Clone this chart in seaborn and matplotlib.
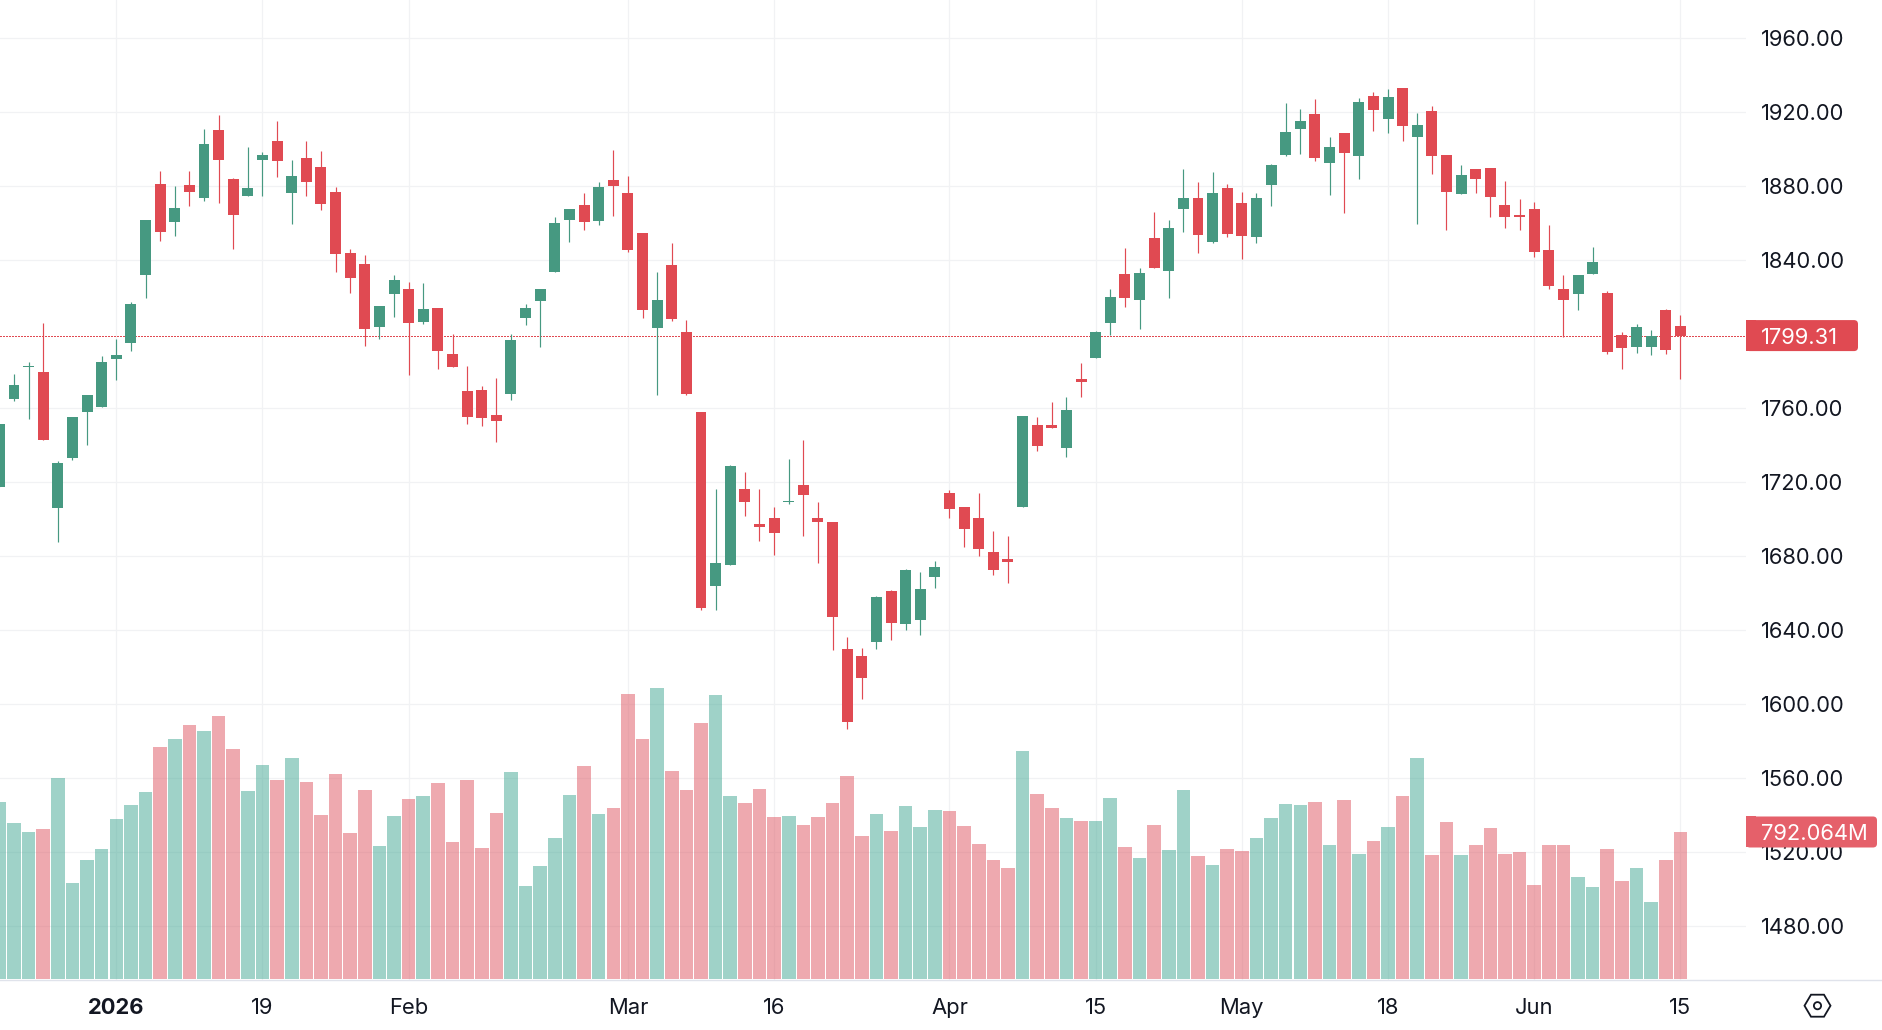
import matplotlib
matplotlib.use("Agg")
import matplotlib.pyplot as plt
from matplotlib.patches import FancyBboxPatch, Rectangle, Polygon, Circle
from matplotlib.lines import Line2D
import numpy as np
import pandas as pd
import seaborn as sns

first_session = -8
price_open = [
    1717.5, 1765.0, 1782.3, 1779.6, 1706.1, 1733.2, 1758.0, 1760.7,
    1786.7, 1795.3, 1832.1, 1881.3, 1860.7, 1880.7, 1873.7, 1910.5, 1884.0, 1874.8,
    1894.2, 1904.5, 1876.4, 1895.3, 1890.5, 1876.9, 1844.0, 1838.0, 1804.0, 1821.8,
    1824.5, 1806.7, 1814.2, 1789.4, 1769.4, 1769.7, 1756.2, 1767.5, 1808.7, 1817.9,
    1833.7, 1861.8, 1869.9, 1861.4, 1883.4, 1876.4, 1854.7, 1803.3, 1837.4, 1801.2,
    1757.9, 1664.1, 1675.4, 1716.6, 1697.7, 1700.9, 1709.1, 1718.3, 1700.9, 1698.8,
    1630.0, 1626.2, 1633.7, 1661.3, 1643.5, 1645.7, 1669.0, 1714.2, 1706.7, 1700.7,
    1682.3, 1678.6, 1706.7, 1751.0, 1751.0, 1738.6, 1775.9, 1787.2, 1806.1, 1832.6,
    1818.6, 1852.1, 1834.2, 1867.7, 1873.7, 1849.9, 1879.1, 1871.0, 1852.6, 1880.7,
    1896.9, 1911.0, 1919.1, 1892.6, 1908.8, 1896.4, 1928.8, 1916.4, 1933.2, 1906.7,
    1920.7, 1896.9, 1875.9, 1889.4, 1889.9, 1869.9, 1864.5, 1867.7, 1845.6, 1824.5,
    1821.8, 1832.6, 1822.3, 1799.6, 1793.2, 1793.2, 1813.2, 1804.5,
]
price_high = [
    1751.5, 1778.6, 1785.0, 1806.1, 1731.5, 1755.3, 1767.2, 1788.3,
    1797.5, 1817.5, 1861.8, 1888.3, 1880.2, 1888.3, 1911.0, 1918.6, 1884.5, 1901.3,
    1898.6, 1915.3, 1894.2, 1904.5, 1899.1, 1879.6, 1846.1, 1842.9, 1815.3, 1832.1,
    1828.3, 1827.7, 1814.2, 1800.2, 1782.9, 1771.8, 1776.3, 1800.1, 1816.4, 1824.5,
    1863.5, 1867.8, 1876.4, 1882.4, 1899.7, 1885.6, 1854.7, 1833.7, 1849.4, 1807.6,
    1757.9, 1716.6, 1729.6, 1725.8, 1716.6, 1706.9, 1732.4, 1743.1, 1709.5, 1698.8,
    1636.5, 1630.5, 1658.7, 1661.9, 1673.3, 1671.6, 1677.6, 1715.9, 1706.7, 1714.2,
    1693.7, 1691.0, 1755.9, 1755.3, 1763.4, 1766.1, 1784.5, 1801.8, 1824.5, 1846.7,
    1835.9, 1866.1, 1861.8, 1889.4, 1882.3, 1887.7, 1881.3, 1876.9, 1876.4, 1892.1,
    1925.0, 1921.8, 1927.2, 1906.7, 1908.8, 1927.7, 1931.0, 1932.6, 1933.2, 1919.6,
    1923.4, 1896.9, 1891.5, 1889.4, 1889.9, 1882.9, 1873.2, 1871.5, 1859.1, 1832.1,
    1832.1, 1847.2, 1823.4, 1801.3, 1805.6, 1802.3, 1813.7, 1810.5,
]
price_low = [
    1717.5, 1764.0, 1754.2, 1742.9, 1687.7, 1732.1, 1740.2, 1760.7,
    1775.3, 1791.0, 1819.6, 1850.5, 1853.2, 1869.4, 1872.1, 1871.0, 1846.1, 1874.8,
    1874.8, 1885.0, 1859.6, 1874.8, 1867.2, 1833.7, 1822.3, 1793.7, 1797.5, 1809.4,
    1778.0, 1805.6, 1781.3, 1782.3, 1751.5, 1750.2, 1741.6, 1764.3, 1805.0, 1793.0,
    1833.7, 1849.8, 1856.4, 1859.0, 1863.9, 1844.4, 1808.7, 1767.1, 1807.2, 1767.1,
    1651.0, 1651.0, 1675.4, 1701.6, 1688.5, 1680.8, 1708.2, 1691.1, 1676.5, 1629.4,
    1586.5, 1602.8, 1630.0, 1634.7, 1640.3, 1637.5, 1663.0, 1700.7, 1685.0, 1680.2,
    1669.9, 1665.6, 1706.7, 1736.9, 1749.4, 1733.7, 1766.1, 1787.2, 1799.5, 1814.8,
    1802.9, 1835.9, 1819.6, 1855.3, 1844.0, 1849.4, 1852.6, 1840.7, 1849.4, 1869.4,
    1896.4, 1897.5, 1893.7, 1875.3, 1865.6, 1884.0, 1909.9, 1908.8, 1904.5, 1859.6,
    1886.7, 1856.4, 1875.9, 1876.4, 1863.4, 1857.5, 1856.4, 1841.8, 1824.5, 1798.6,
    1813.2, 1832.6, 1789.4, 1781.3, 1789.9, 1788.8, 1789.4, 1775.9,
]
price_close = [
    1751.5, 1772.6, 1782.9, 1742.9, 1730.5, 1755.3, 1767.2, 1785.0,
    1788.8, 1816.4, 1861.8, 1855.3, 1868.3, 1876.9, 1902.9, 1894.2, 1864.5, 1879.1,
    1896.9, 1893.7, 1885.6, 1882.3, 1870.5, 1843.4, 1830.5, 1802.9, 1815.3, 1829.4,
    1806.1, 1813.7, 1791.0, 1782.3, 1755.3, 1754.5, 1753.4, 1796.9, 1814.2, 1824.5,
    1860.3, 1867.8, 1860.7, 1879.8, 1880.2, 1845.5, 1813.0, 1818.5, 1808.2, 1767.5,
    1652.1, 1676.5, 1728.6, 1709.1, 1696.0, 1692.8, 1710.1, 1713.4, 1698.8, 1647.4,
    1590.4, 1614.2, 1658.1, 1644.0, 1672.7, 1662.4, 1674.4, 1705.6, 1694.8, 1684.0,
    1672.6, 1676.9, 1755.9, 1739.6, 1749.4, 1759.1, 1774.2, 1801.3, 1820.2, 1819.6,
    1833.2, 1835.9, 1857.5, 1873.7, 1853.7, 1876.4, 1854.2, 1853.2, 1873.7, 1891.5,
    1909.4, 1915.3, 1895.3, 1901.3, 1898.0, 1925.6, 1921.3, 1928.3, 1912.6, 1913.2,
    1896.4, 1876.9, 1886.1, 1884.0, 1874.2, 1863.4, 1863.4, 1844.5, 1826.1, 1818.6,
    1832.1, 1839.1, 1790.5, 1792.6, 1804.0, 1799.1, 1791.5, 1799.31,
]
volume_m = [
    953.7, 840.5, 792.0, 808.2, 1083.0, 517.2, 641.2, 700.4,
    862.1, 937.5, 1007.6, 1250.0, 1293.1, 1368.6, 1336.2, 1417.0, 1239.2, 1012.9,
    1153.0, 1072.2, 1190.7, 1061.4, 883.6, 1104.5, 786.6, 1018.3, 716.6, 878.2,
    969.8, 986.0, 1056.0, 738.2, 1072.2, 705.8, 894.4, 1115.3, 501.1, 608.8,
    759.7, 991.4, 1147.6, 889.0, 921.3, 1535.6, 1293.1, 1567.9, 1120.7, 1018.3,
    1379.3, 1530.2, 986.0, 948.3, 1023.7, 872.9, 878.2, 829.8, 872.9, 948.3,
    1093.8, 770.5, 889.0, 797.4, 932.1, 819.0, 910.6, 905.2, 824.4, 727.4,
    641.2, 598.1, 1228.5, 996.8, 921.3, 867.5, 851.3, 851.3, 975.2, 711.2,
    652.0, 829.8, 695.1, 1018.3, 662.7, 614.2, 700.4, 689.7, 759.7, 867.5,
    942.9, 937.5, 953.7, 722.0, 964.5, 673.5, 743.5, 819.0, 986.0, 1190.7,
    668.1, 845.9, 668.1, 722.0, 813.6, 673.5, 684.3, 506.5, 722.0, 722.0,
    549.6, 495.7, 700.4, 528.0, 598.1, 414.9, 641.2, 792.064,
]
date_ticks = [0, 10, 20, 35, 45, 57, 67, 77, 87, 97, 107]
date_labels = ["2026", "19", "Feb", "Mar", "16", "Apr", "15", "May", "18", "Jun", "15"]
price_ticks = [1480, 1520, 1560, 1600, 1640, 1680, 1720, 1760, 1840, 1880, 1920, 1960]
last_price = price_close[-1]
last_volume = volume_m[-1]

UP = "#469981"
DOWN = "#E04A52"
UP_VOL = "#41A793"
DOWN_VOL = "#DF5561"
GRID = "#F1F2F4"
RULE = "#E0E3EB"
INK = "#131722"
TEXT_SIZE = 15.8
FIG_W, FIG_H = 1882, 1030
PLOT_R, PLOT_B = 1746, 980

sns.set_theme(style="white")
plt.rcParams["font.family"] = ["Inter", "DejaVu Sans"]

sessions = np.arange(first_session, first_session + len(price_close))
df = pd.DataFrame({
    "session": sessions, "open": price_open, "high": price_high,
    "low": price_low, "close": price_close, "volume": volume_m,
})
df["side"] = np.where(df["close"] >= df["open"], "up", "down")
df["top"] = df[["open", "close"]].max(axis=1)
df["bottom"] = df[["open", "close"]].min(axis=1)

fig = plt.figure(figsize=(FIG_W / 100, FIG_H / 100), dpi=100, facecolor="white")
ax = fig.add_axes([0, (FIG_H - PLOT_B) / FIG_H, PLOT_R / FIG_W, PLOT_B / FIG_H])
ax.set_facecolor("white")
ax.set_axisbelow(True)
ax.grid(True, color=GRID, linewidth=0.9)

# Last-close marker: one-pixel-high dots, three pixels apart.
ax.axhline(last_price, color=DOWN, linewidth=0.72, linestyle=(0, (1.5, 1.5)),
           antialiased=False, zorder=1.5)

colors = df["side"].map({"up": UP, "down": DOWN})
ax.vlines(df["session"], df["low"], df["high"], colors=colors, linewidth=0.85, zorder=2)
ax.bar(df["session"], df["top"] - df["bottom"], bottom=df["bottom"], width=0.75,
       color=colors, linewidth=0, zorder=3)

# Volume pane shares the time axis and sits along the bottom of the plot.
ax_vol = ax.twinx()
sns.barplot(data=df, x="session", y="volume", hue="side",
            palette={"up": UP_VOL, "down": DOWN_VOL}, native_scale=True, dodge=False,
            width=0.93, saturation=1, alpha=0.5, errorbar=None, legend=False,
            linewidth=0, ax=ax_vol)
ax_vol.set_ylim(-5.4, 5275)
ax_vol.set_axis_off()

ax.set_xlim(-7.957, 111.49)
ax.set_ylim(1451.0, 1980.7)
ax.set_xticks(date_ticks, date_labels)
ax.set_yticks(price_ticks, [f"{p:.2f}" for p in price_ticks])
ax.yaxis.tick_right()
ax.tick_params(axis="y", length=0, pad=11.0, labelsize=TEXT_SIZE, colors=INK)
ax.tick_params(axis="x", length=0, pad=13.2, labelsize=TEXT_SIZE, colors=INK)
ax.get_xticklabels()[0].set_fontweight("bold")
for label in ax.get_yticklabels():
    label.set_verticalalignment("center_baseline")
for side in ("top", "left", "right"):
    ax.spines[side].set_visible(False)
ax.spines["bottom"].set_color(RULE)
ax.spines["bottom"].set_linewidth(1.0)

# Overlay in pixel units for the price-scale tags and the settings glyph.
overlay = fig.add_axes([0, 0, 1, 1], facecolor="none")
overlay.set_xlim(0, FIG_W)
overlay.set_ylim(FIG_H, 0)
overlay.set_axis_off()
overlay.add_line(Line2D([PLOT_R + 1, FIG_W], [PLOT_B, PLOT_B], color=RULE, linewidth=1.0))


def tag(y, right, color, text):
    h = 31
    overlay.add_patch(FancyBboxPatch((PLOT_R, y - h / 2), right - PLOT_R, h,
                                     boxstyle="round,pad=0,rounding_size=4",
                                     facecolor=color, edgecolor="none", zorder=5))
    overlay.add_patch(Rectangle((PLOT_R, y - h / 2), 10, h, facecolor=color,
                                edgecolor="none", zorder=5))
    overlay.text(1761, y, text, color="white", fontsize=TEXT_SIZE, va="center_baseline",
                 ha="left", zorder=6)


fig.canvas.draw()
price_y = FIG_H - ax.transData.transform((0, last_price))[1]
volume_y = FIG_H - ax_vol.transData.transform((0, last_volume))[1]
tag(price_y, 1858, DOWN, f"{last_price:.2f}")
tag(volume_y, 1877, "#E5606A", f"{last_volume:.3f}M")

cx, cy = 1817.5, 1005.7
overlay.add_patch(Polygon([(cx - 13, cy), (cx - 6.5, cy - 11), (cx + 6.5, cy - 11),
                           (cx + 13, cy), (cx + 6.5, cy + 11), (cx - 6.5, cy + 11)],
                          closed=True, fill=False, edgecolor=INK, linewidth=1.3))
overlay.add_patch(Circle((cx, cy), 3.6, fill=False, edgecolor=INK, linewidth=1.3))

fig.savefig("out.png", dpi=100, facecolor="white")
